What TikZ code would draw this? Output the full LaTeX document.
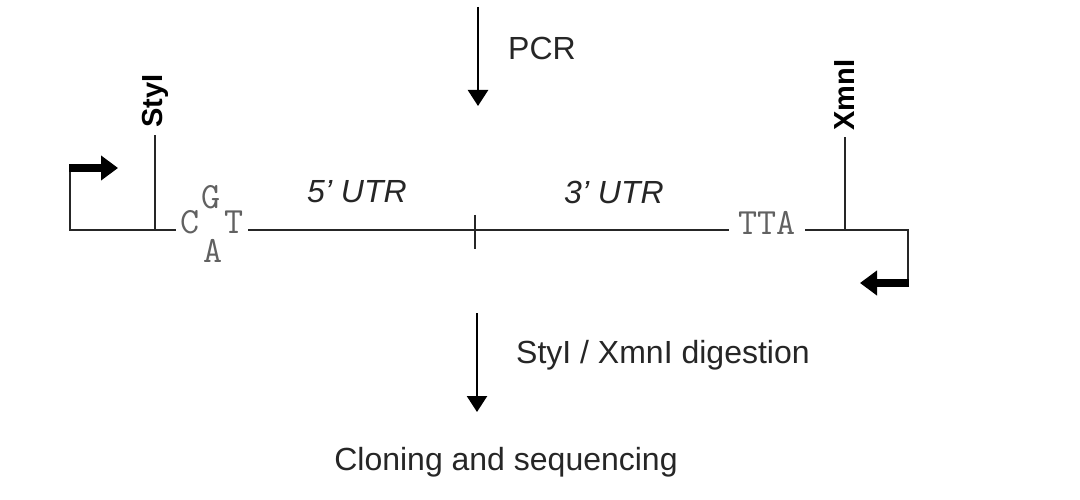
\documentclass[tikz,border=0pt]{standalone}
\usepackage{fontspec}
\setmainfont{Liberation Sans}
\usetikzlibrary{arrows.meta}
\tikzset{
  dna/.style={line width=2pt, black!85},
  base/.style={font=\ttfamily\fontsize{37}{37}\selectfont, text=black!62, inner sep=0pt, text height=0.62em, text depth=0pt},
  lbl/.style={font=\fontsize{32}{36}\selectfont, text=black!85, inner sep=0pt},
  site/.style={font=\bfseries\fontsize{29}{30}\selectfont, rotate=90, inner sep=0pt},
  steparrow/.style={line width=2.5pt, -{Triangle[length=16pt,width=20pt]}},
  promo/.style={line width=8pt, -{Triangle[length=17pt,width=24pt]}},
}
\begin{document}
\begin{tikzpicture}[x=1pt,y=-1pt]
\useasboundingbox (0,0) rectangle (1080,500);
\fill[white] (0,0) rectangle (1080,500);

% PCR step
\coordinate (p1) at (478,7);
\coordinate (p2) at (478,106);
\draw[steparrow] (p1) -- (p2);
\node[lbl, anchor=west] (pcr) at (508,48) {PCR};

% bases
\node[base] (C) at (190,230) {C};
\node[base] (G) at (211,205) {G};
\node[base] (T) at (234,230) {T};
\node[base] (A) at (213,259) {A};
\node[base] (TTA) at (767,231) {TTA};

% left promoter
\coordinate (L0) at (70,230);
\coordinate (Lup) at (70,168);
\coordinate (Larr) at (118,168);
\coordinate (Lend) at (176,230);
\draw[dna] (Lup) -- (L0) -- (Lend);
\draw[promo] ([xshift=-1pt]Lup) -- (Larr);

% StyI site
\coordinate (s0) at (155,230);
\coordinate (s1) at (155,135);
\draw[dna] (s0) -- (s1);
\node[site, anchor=west] (styI) at (155,128) {StyI};

% main line
\coordinate (m0) at (248,230);
\coordinate (m1) at (729,230);
\draw[dna] (m0) -- (m1);
\coordinate (k1) at (475,215);
\coordinate (k2) at (475,249);
\draw[dna] (k1) -- (k2);
\node[lbl, font=\itshape\fontsize{32}{36}\selectfont] (u5) at (357,192) {5' UTR};
\node[lbl, font=\itshape\fontsize{32}{36}\selectfont] (u3) at (614,192) {3' UTR};

% right side
\coordinate (r0) at (805,230);
\coordinate (R0) at (908,230);
\coordinate (Rdn) at (908,283);
\coordinate (Rarr) at (860,283);
\draw[dna] (r0) -- (R0) -- (Rdn);
\draw[promo] ([xshift=1pt]Rdn) -- (Rarr);

% XmnI site
\coordinate (x0) at (845,230);
\coordinate (x1) at (845,137);
\draw[dna] (x0) -- (x1);
\node[site, anchor=west] (xmnI) at (845,131) {XmnI};

% digestion step
\coordinate (d1) at (477,313);
\coordinate (d2) at (477,412);
\draw[steparrow] (d1) -- (d2);
\node[lbl, anchor=west] (dig) at (516,355) {StyI / XmnI digestion};

\node[lbl] (clon) at (506,462) {Cloning and sequencing};
\end{tikzpicture}
\end{document}
